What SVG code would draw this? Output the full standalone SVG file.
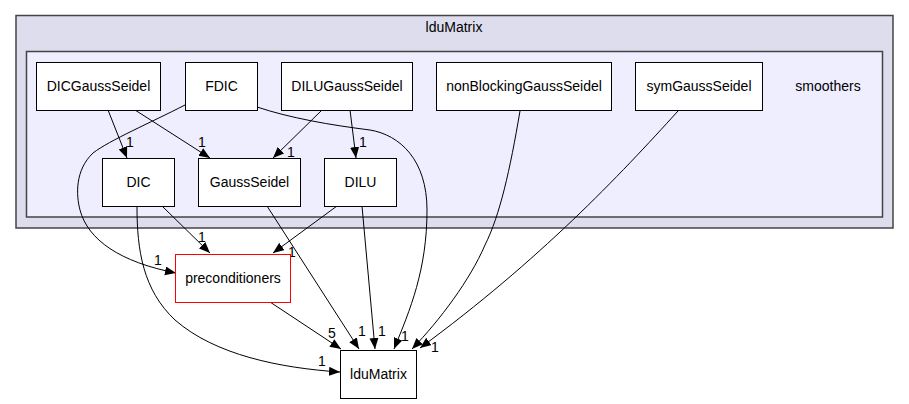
<svg xmlns="http://www.w3.org/2000/svg" width="909" height="404" viewBox="0 0 909 404">
<style>
text{font-family:"Liberation Sans",Arial,sans-serif;font-size:14px;fill:#000;text-anchor:middle}
.node rect{fill:#fff;stroke:#000;stroke-width:1}
.edge{fill:none;stroke:#000;stroke-width:1;marker-end:url(#ah)}
</style>
<defs>
<marker id="ah" markerUnits="userSpaceOnUse" markerWidth="12" markerHeight="10" refX="11" refY="4.5" orient="auto">
<path d="M0,0 L11,4.5 L0,9 z" fill="#000"/>
</marker>
</defs>
<rect width="909" height="404" fill="#fff"/>
<g id="cluster_IduMatrix">
<rect x="16" y="15.5" width="877" height="212.5" fill="#ddddee" stroke="#444" stroke-width="1.5"/>
<text x="454" y="32">lduMatrix</text>
</g>
<g id="cluster_smoothers">
<rect x="26.5" y="51.5" width="856" height="165.5" fill="#eeeeff" stroke="#444" stroke-width="1.5"/>
<text x="828" y="91">smoothers</text>
</g>
<g id="connectors">
<path class="edge" d="M108,110 L127,158"/>
<path class="edge" d="M135,110 L210,158"/>
<path class="edge" d="M185,105 C150,123 110,140 93,153 C75,170 76,195 80,210 C88,240 120,262 176,273"/>
<path class="edge" d="M257,107 C290,118 330,125 370,130 C400,135 427,160 427,210 C427,270 410,310 394,349"/>
<path class="edge" d="M322,110 L273,158"/>
<path class="edge" d="M350,110 L356,158"/>
<path class="edge" d="M162,206 L210,253"/>
<path class="edge" d="M137,207 C137,250 143,290 175,320 C215,355 280,368 340,372"/>
<path class="edge" d="M267,206 L359,349"/>
<path class="edge" d="M337,206 L273,253"/>
<path class="edge" d="M362,206 L375,349"/>
<path class="edge" d="M270,302 L341,349"/>
<path class="edge" d="M520,111 C510,170 500,215 485,245 C470,280 440,320 412,349"/>
<path class="edge" d="M678,111 C620,175 540,260 420,348"/>
<text x="130" y="147">1</text>
<text x="202" y="147">1</text>
<text x="291" y="157">1</text>
<text x="363" y="147">1</text>
<text x="158" y="265">1</text>
<text x="202" y="242">1</text>
<text x="292" y="257">1</text>
<text x="332" y="338">5</text>
<text x="362" y="336">1</text>
<text x="382" y="336">1</text>
<text x="405" y="341">1</text>
<text x="435" y="352">1</text>
<text x="322" y="366">1</text>
</g>
<g id="DICGaussSeidel" class="node"><rect x="36.5" y="62.5" width="124" height="48"/><text x="98.5" y="91">DICGaussSeidel</text></g>
<g id="FDIC" class="node"><rect x="185.5" y="62.5" width="72" height="48"/><text x="221.5" y="91">FDIC</text></g>
<g id="DILUGaussSeidel" class="node"><rect x="281.5" y="62.5" width="131" height="48"/><text x="347" y="91">DILUGaussSeidel</text></g>
<g id="nonBlockingGaussSeidel" class="node"><rect x="436.5" y="62.5" width="175" height="48"/><text x="524" y="91">nonBlockingGaussSeidel</text></g>
<g id="symGaussSeidel" class="node"><rect x="635.5" y="62.5" width="127" height="48"/><text x="699" y="91">symGaussSeidel</text></g>
<g id="DIC" class="node"><rect x="102.5" y="158.5" width="72" height="48"/><text x="138.5" y="187">DIC</text></g>
<g id="GaussSeidel" class="node"><rect x="198.5" y="158.5" width="102" height="48"/><text x="249.5" y="187">GaussSeidel</text></g>
<g id="DILU" class="node"><rect x="324.5" y="158.5" width="72" height="48"/><text x="360.5" y="187">DILU</text></g>
<g id="preconditioners" class="node"><rect x="175.5" y="254.5" width="115" height="48" style="stroke:#ff0000"/><text x="233" y="283">preconditioners</text></g>
<g id="lduMatrix" class="node"><rect x="340.5" y="350.5" width="76" height="48"/><text x="378.5" y="379">lduMatrix</text></g>
</svg>
